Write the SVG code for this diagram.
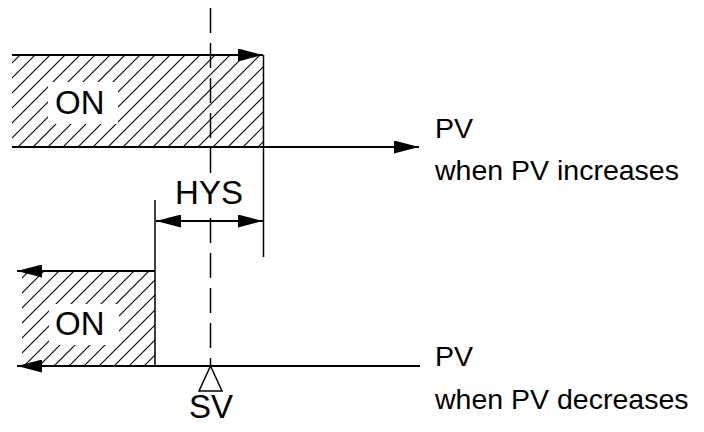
<svg xmlns="http://www.w3.org/2000/svg" width="704" height="432" viewBox="0 0 704 432">
  <defs>
    <pattern id="hatch" patternUnits="userSpaceOnUse" width="15" height="15">
      <path d="M-2,2 L2,-2 M0,15 L15,0 M13,17 L17,13" stroke="#000" stroke-width="1.1"/>
    </pattern>
    <marker id="arr" markerUnits="userSpaceOnUse" markerWidth="25" markerHeight="13" refX="25" refY="6.5" orient="auto-start-reverse" viewBox="0 0 25 13">
      <path d="M0,0 L25,6.5 L0,13 z" fill="#000"/>
    </marker>
    <style>
      .ln { stroke: #000; stroke-width: 2; fill: none; }
      .thin { stroke: #000; stroke-width: 1.5; fill: none; }
      .dash { stroke: #000; stroke-width: 1.5; fill: none; stroke-dasharray: 25 10; }
      .big { font-family: "Liberation Sans", Arial, sans-serif; font-size: 33px; fill: #000; }
      .lbl { font-family: "Liberation Sans", Arial, sans-serif; font-size: 28.5px; fill: #000; }
    </style>
  </defs>
  <rect width="704" height="432" fill="#fff"/>

  <g id="on-increase">
    <rect x="12" y="55" width="251" height="92" fill="url(#hatch)"/>
    <rect x="48" y="82" width="70" height="42" fill="#fff"/>
    <text class="big" x="55" y="114">ON</text>
  </g>

  <g id="on-decrease">
    <rect x="22" y="271" width="133" height="95" fill="url(#hatch)"/>
    <rect x="49" y="304" width="70" height="41" fill="#fff"/>
    <text class="big" x="55" y="335">ON</text>
  </g>

  <g id="connectors">
    <line class="dash" x1="210.5" y1="8" x2="210.5" y2="366"/>
    <line class="ln" x1="12" y1="55" x2="263" y2="55" marker-end="url(#arr)"/>
    <line class="thin" x1="263.5" y1="55" x2="263.5" y2="257"/>
    <line class="ln" x1="12" y1="147" x2="419" y2="147" marker-end="url(#arr)"/>
    <line class="thin" x1="155" y1="200" x2="155" y2="366"/>
    <line class="ln" x1="156" y1="221" x2="263" y2="221" marker-start="url(#arr)" marker-end="url(#arr)"/>
    <line class="ln" x1="155" y1="271" x2="17" y2="271" marker-end="url(#arr)"/>
    <line class="ln" x1="420" y1="366" x2="17" y2="366" marker-end="url(#arr)"/>
  </g>

  <g id="hys">
    <rect x="174" y="176" width="72" height="32" fill="#fff"/>
    <text class="big" x="209" y="204" text-anchor="middle">HYS</text>
  </g>

  <g id="sv">
    <polygon points="210.5,366 199,391 222,391" fill="#fff" stroke="#000" stroke-width="1.5"/>
    <text class="big" x="211" y="418" text-anchor="middle">SV</text>
  </g>

  <g id="labels-increase">
    <text class="lbl" x="435" y="138">PV</text>
    <text class="lbl" x="435" y="180">when PV increases</text>
  </g>

  <g id="labels-decrease">
    <text class="lbl" x="435" y="366">PV</text>
    <text class="lbl" x="435" y="409">when PV decreases</text>
  </g>
</svg>
